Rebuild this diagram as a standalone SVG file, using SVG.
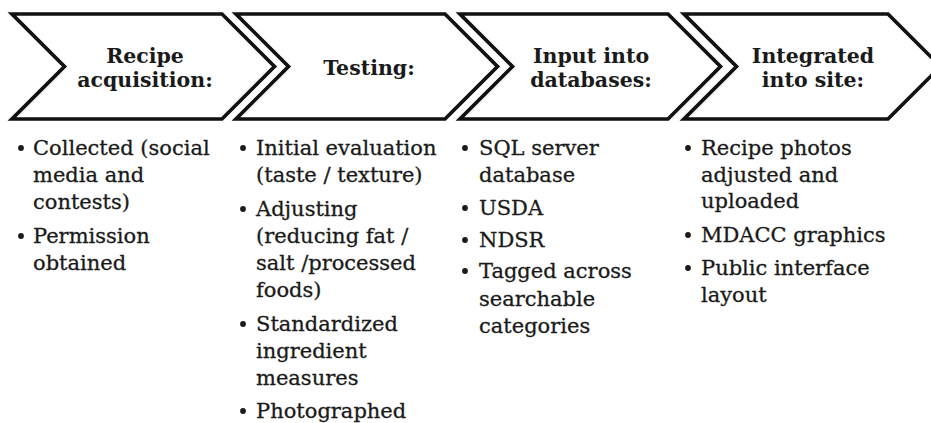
<svg xmlns="http://www.w3.org/2000/svg" width="931" height="423" viewBox="0 0 931 423">
<style>
.chev{fill:#fff;stroke:#111;stroke-width:3.7;stroke-linejoin:miter}
.hd{font-family:"DejaVu Serif","Liberation Serif",serif;font-weight:bold;font-size:20.5px;fill:#1a1a1a;text-anchor:middle}
.bt{font-family:"DejaVu Serif","Liberation Serif",serif;font-size:21px;fill:#1a1a1a;stroke:#1a1a1a;stroke-width:0.3}
.dot{fill:#1a1a1a}
</style>
<rect width="931" height="423" fill="#fff"/>
<g id="step1">
<path class="chev" d="M12,14 L222,14 L274.5,66.5 L222,119 L12,119 L64.5,66.5 Z"/>
<text class="hd" x="145" y="63">Recipe</text>
<text class="hd" x="145" y="87">acquisition:</text>
</g>
<g id="step2">
<path class="chev" d="M236,14 L445,14 L497.5,66.5 L445,119 L236,119 L288.5,66.5 Z"/>
<text class="hd" x="369" y="75">Testing:</text>
</g>
<g id="step3">
<path class="chev" d="M460,14 L668,14 L720.5,66.5 L668,119 L460,119 L512.5,66.5 Z"/>
<text class="hd" x="591" y="63">Input into</text>
<text class="hd" x="591" y="87">databases:</text>
</g>
<g id="step4">
<path class="chev" d="M684,14 L888,14 L940.5,66.5 L888,119 L684,119 L736.5,66.5 Z"/>
<text class="hd" x="813" y="63">Integrated</text>
<text class="hd" x="813" y="87">into site:</text>
</g>
<g id="list1">
<circle class="dot" cx="21" cy="148" r="2.9"/>
<circle class="dot" cx="21" cy="236" r="2.9"/>
<text class="bt" x="33" y="155">Collected (social</text>
<text class="bt" x="33" y="182">media and</text>
<text class="bt" x="33" y="209">contests)</text>
<text class="bt" x="33" y="243">Permission</text>
<text class="bt" x="33" y="270">obtained</text>
</g>
<g id="list2">
<circle class="dot" cx="243" cy="148" r="2.9"/>
<circle class="dot" cx="243" cy="209" r="2.9"/>
<circle class="dot" cx="243" cy="324" r="2.9"/>
<circle class="dot" cx="243" cy="411" r="2.9"/>
<text class="bt" x="256" y="155">Initial evaluation</text>
<text class="bt" x="256" y="182">(taste / texture)</text>
<text class="bt" x="256" y="216">Adjusting</text>
<text class="bt" x="256" y="243">(reducing fat /</text>
<text class="bt" x="256" y="270">salt /processed</text>
<text class="bt" x="256" y="297">foods)</text>
<text class="bt" x="256" y="331">Standardized</text>
<text class="bt" x="256" y="358">ingredient</text>
<text class="bt" x="256" y="385">measures</text>
<text class="bt" x="256" y="418">Photographed</text>
</g>
<g id="list3">
<circle class="dot" cx="465" cy="148" r="2.9"/>
<circle class="dot" cx="465" cy="208" r="2.9"/>
<circle class="dot" cx="465" cy="240" r="2.9"/>
<circle class="dot" cx="465" cy="271" r="2.9"/>
<text class="bt" x="479" y="155">SQL server</text>
<text class="bt" x="479" y="182">database</text>
<text class="bt" x="479" y="215">USDA</text>
<text class="bt" x="479" y="247">NDSR</text>
<text class="bt" x="479" y="278">Tagged across</text>
<text class="bt" x="479" y="306">searchable</text>
<text class="bt" x="479" y="333">categories</text>
</g>
<g id="list4">
<circle class="dot" cx="688" cy="148" r="2.9"/>
<circle class="dot" cx="688" cy="235" r="2.9"/>
<circle class="dot" cx="688" cy="268" r="2.9"/>
<text class="bt" x="701" y="155">Recipe photos</text>
<text class="bt" x="701" y="182">adjusted and</text>
<text class="bt" x="701" y="208">uploaded</text>
<text class="bt" x="701" y="242">MDACC graphics</text>
<text class="bt" x="701" y="275">Public interface</text>
<text class="bt" x="701" y="302">layout</text>
</g>
</svg>
